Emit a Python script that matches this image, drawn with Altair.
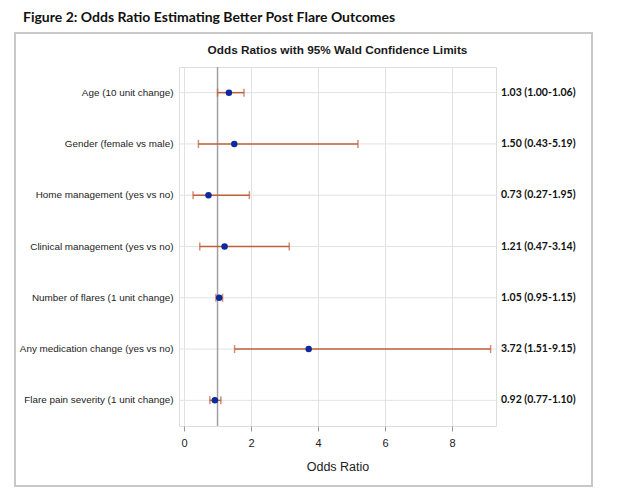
import altair as alt
import pandas as pd

labels = [
    "Age (10 unit change)",
    "Gender (female vs male)",
    "Home management (yes vs no)",
    "Clinical management (yes vs no)",
    "Number of flares (1 unit change)",
    "Any medication change (yes vs no)",
    "Flare pain severity (1 unit change)",
]
odds = [1.34, 1.50, 0.73, 1.21, 1.05, 3.72, 0.92]
lower = [1.00, 0.43, 0.27, 0.47, 0.95, 1.51, 0.77]
upper = [1.79, 5.19, 1.95, 3.14, 1.15, 9.15, 1.10]
ci_text = [
    "1.03 (1.00-1.06)",
    "1.50 (0.43-5.19)",
    "0.73 (0.27-1.95)",
    "1.21 (0.47-3.14)",
    "1.05 (0.95-1.15)",
    "3.72 (1.51-9.15)",
    "0.92 (0.77-1.10)",
]
x_ticks = [0, 2, 4, 6, 8]
ref_value = [1]

df = pd.DataFrame({"label": labels, "or": odds, "lo": lower, "hi": upper, "txt": ci_text})
ref_df = pd.DataFrame({"ref": ref_value})
one = pd.DataFrame({"a": [0]})

W, H = 317, 359
xscale = alt.Scale(domain=[-0.15, 9.31], nice=False, zero=False)
yenc = alt.Y("label:N", sort=labels, title=None,
             axis=alt.Axis(labelFont="Liberation Sans", labelFontSize=9.9, labelColor="#222222",
                           labelPadding=6, ticks=False, domain=False, grid=False,
                           labelLimit=300))
xaxis = alt.Axis(values=x_ticks, title="Odds Ratio", titleFont="Liberation Sans",
                 titleFontSize=12.5, titleFontWeight="normal", titleColor="#222222",
                 titlePadding=12, labelFont="Liberation Sans", labelFontSize=11,
                 labelColor="#222222", labelPadding=6, tickSize=5, tickColor="#999999",
                 domain=False, grid=True, gridColor="#e2e2e2")

base = alt.Chart(df)

frame = alt.Chart(one).mark_rect(fill=None, stroke="#c8c8c8", strokeWidth=2).encode(
    x=alt.value(-164), x2=alt.value(413), y=alt.value(-34), y2=alt.value(419))

fig_title = alt.Chart(one).mark_text(
    text="Figure 2: Odds Ratio Estimating Better Post Flare Outcomes",
    font="Lato", fontSize=14, fontWeight="bold", align="left", baseline="middle",
    color="#111111").encode(x=alt.value(-156), y=alt.value(-49))

plot_title = alt.Chart(one).mark_text(
    text="Odds Ratios with 95% Wald Confidence Limits",
    font="Liberation Sans", fontSize=11.8, fontWeight="bold", align="center",
    baseline="middle", color="#1a1a1a").encode(x=alt.value(W / 2), y=alt.value(-17))

hgrid = base.mark_rule(color="#e2e2e2", strokeWidth=1).encode(y=yenc)

ref = alt.Chart(ref_df).mark_rule(color="#a0a0a0", strokeWidth=1.5).encode(
    x=alt.X("ref:Q", scale=xscale, axis=xaxis))

bars = base.mark_rule(color="#c0603a", strokeWidth=1.5).encode(
    x=alt.X("lo:Q", scale=xscale, axis=xaxis), x2="hi:Q", y=yenc)
cap_lo = base.mark_tick(color="#c0603a", thickness=1.5, size=8).encode(
    x=alt.X("lo:Q", scale=xscale), y=yenc)
cap_hi = base.mark_tick(color="#c0603a", thickness=1.5, size=8).encode(
    x=alt.X("hi:Q", scale=xscale), y=yenc)
pts = base.mark_circle(color="#0c2a9c", opacity=1, size=42).encode(
    x=alt.X("or:Q", scale=xscale), y=yenc)
txt = base.mark_text(font="Lato", fontSize=10.5, fontWeight="bold", align="left",
                     baseline="middle", color="#111111").encode(
    x=alt.value(W + 5), y=yenc, text="txt:N")

chart = alt.layer(frame, fig_title, plot_title, hgrid, ref, bars, cap_lo, cap_hi, pts, txt).properties(
    width=W, height=H,
    autosize=alt.AutoSizeParams(type="none"),
    padding={"left": 171, "top": 59, "right": 112, "bottom": 62},
).configure_view(stroke="#a8a8a8", strokeWidth=1.2).configure(background="white")

chart.save("out.html", embed_options={"renderer": "svg", "actions": False})
